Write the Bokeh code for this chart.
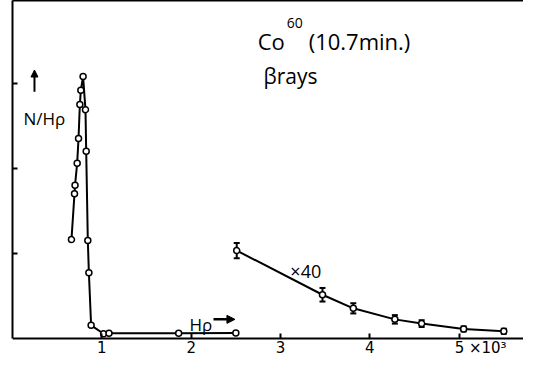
from bokeh.plotting import figure
from bokeh.models import (Label, Whisker, TeeHead, ColumnDataSource, LinearAxis,
                          FixedTicker, Arrow, NormalHead, Range1d)
from bokeh.embed import file_html
from bokeh.resources import INLINE

# ---- data (H rho in units of 10^3, N/H rho arbitrary) ----
peak_x = [0.66, 0.694, 0.70, 0.724, 0.739, 0.754, 0.765, 0.79, 0.817, 0.825,
          0.843, 0.855, 0.88, 1.02, 1.08, 1.86, 2.50]
peak_y = [1.16, 1.70, 1.80, 2.06, 2.35, 2.75, 2.92, 3.08, 2.69, 2.20,
          1.15, 0.77, 0.15, 0.05, 0.055, 0.057, 0.06]

tail_x = [2.51, 3.47, 3.815, 4.28, 4.58, 5.05, 5.50]
tail_y = [1.03, 0.51, 0.35, 0.22, 0.17, 0.107, 0.08]
tail_err = [0.09, 0.08, 0.06, 0.05, 0.04, 0.03, 0.03]

x_ticks = [1, 2, 3, 4, 5]
FS = "\u2007"
x_tick_labels = {1: "1", 2: "2", 3: "3", 4: "4", 5: FS * 4 + " 5 ×10³"}
y_ticks = [1, 2, 3]

FONT = "Open Sans"
Y_BOT = -0.241
Y_TOP = 3.976

p = figure(width=523, height=358, x_range=Range1d(0, 5.72), y_range=Range1d(Y_BOT, Y_TOP),
           output_backend="svg", toolbar_location=None,
           min_border_left=12, min_border_right=0, min_border_top=0, min_border_bottom=0,
           outline_line_color=None,
           background_fill_color="white", border_fill_color="white")
p.grid.visible = False

xa = p.xaxis[0]
xa.fixed_location = 0
xa.ticker = FixedTicker(ticks=x_ticks, minor_ticks=[])
xa.major_label_overrides = x_tick_labels
xa.major_tick_in = 5
xa.major_tick_out = 0
xa.axis_line_width = 2
xa.major_tick_line_width = 2
xa.major_label_standoff = 1
xa.major_label_text_font = "DejaVu Sans"
xa.major_label_text_font_size = "15px"
xa.major_label_text_color = "black"

ya = p.yaxis[0]
ya.ticker = FixedTicker(ticks=y_ticks, minor_ticks=[])
ya.bounds = (0, Y_TOP)
ya.major_label_overrides = {1: "", 2: "", 3: ""}
ya.major_tick_in = 5
ya.major_tick_out = 0
ya.axis_line_width = 2
ya.major_tick_line_width = 2
ya.major_label_standoff = 0

top = LinearAxis(ticker=FixedTicker(ticks=[], minor_ticks=[]), major_tick_in=0,
                 major_tick_out=0, major_label_standoff=0, axis_label_standoff=0,
                 axis_line_width=2)
p.add_layout(top, "above")

# curves
p.line(peak_x, peak_y, line_color="black", line_width=2)
p.scatter(peak_x, peak_y, marker="circle", size=6, fill_color="white",
          line_color="black", line_width=1.5)

src = ColumnDataSource(dict(x=tail_x, y=tail_y,
                            lo=[a - b for a, b in zip(tail_y, tail_err)],
                            hi=[a + b for a, b in zip(tail_y, tail_err)]))
p.line("x", "y", source=src, line_color="black", line_width=2)
p.add_layout(Whisker(base="x", lower="lo", upper="hi", source=src,
                     line_color="black", line_width=2,
                     upper_head=TeeHead(size=6, line_width=2, line_color="black"),
                     lower_head=TeeHead(size=6, line_width=2, line_color="black")))
p.scatter("x", "y", source=src, marker="circle", size=6, fill_color="white",
          line_color="black", line_width=1.5)

# annotations
def lab(x, y, text, size, **kw):
    p.add_layout(Label(x=x, y=y, text=text, text_font=FONT, text_font_size=size,
                       text_color="black", text_baseline="alphabetic", **kw))

lab(2.744, 3.494, "Co", "22px")
lab(3.07, 3.71, "60", "14px")
lab(3.315, 3.494, "(10.7min.)", "22px")
lab(2.81, 3.084, "βrays", "21px")
lab(0.123, 2.59, "N/Hρ", "17px")
lab(3.11, 0.79, "×40", "18px")
lab(1.98, 0.16, "Hρ", "17px")

p.add_layout(Arrow(x_start=0.246, y_start=2.90, x_end=0.246, y_end=3.157,
                   line_color="black", line_width=2,
                   end=NormalHead(size=7, fill_color="black", line_color="black")))
p.add_layout(Arrow(x_start=2.25, y_start=0.22, x_end=2.49, y_end=0.22,
                   line_color="black", line_width=2.5,
                   end=NormalHead(size=8, fill_color="black", line_color="black")))

open("out.html", "w").write(file_html(p, INLINE))
